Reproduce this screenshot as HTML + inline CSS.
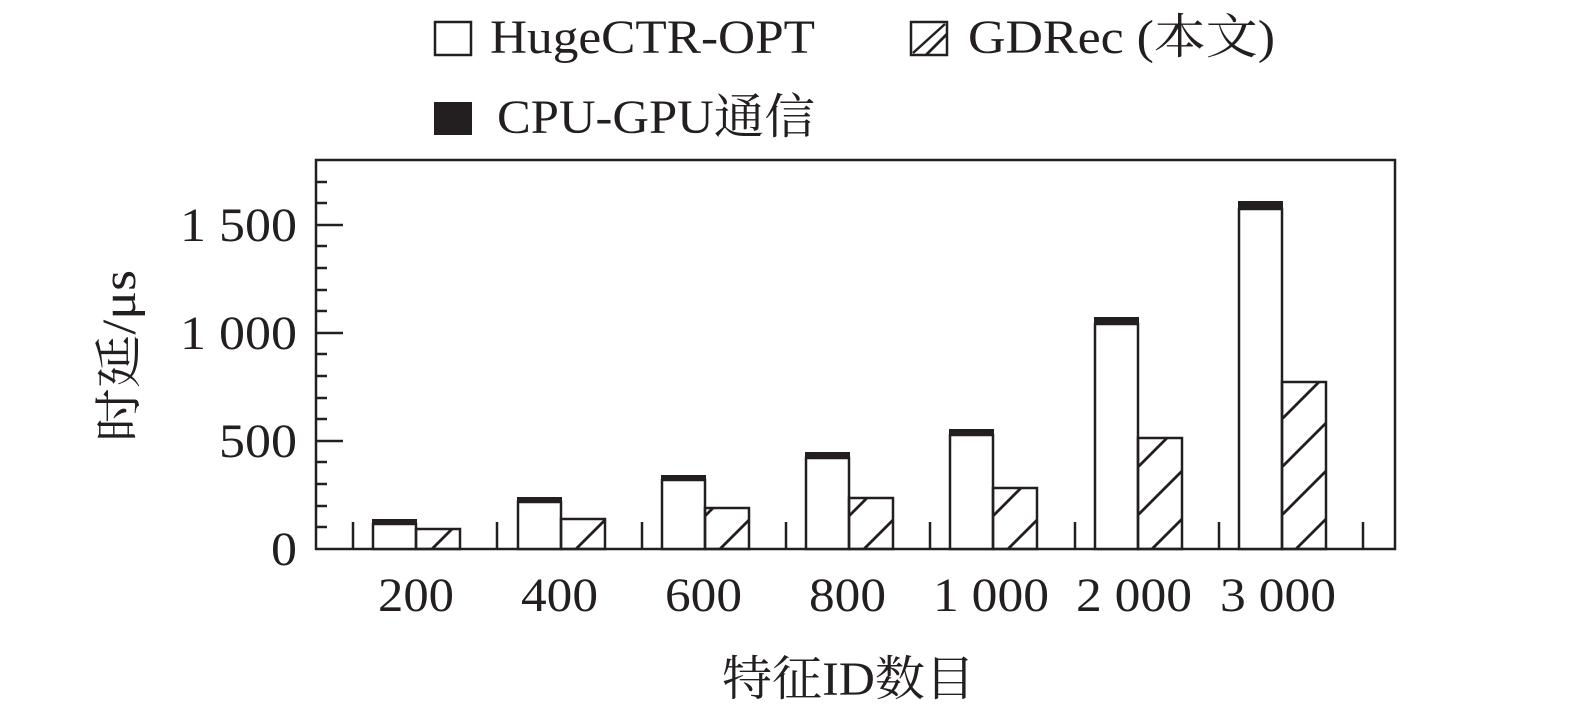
<!DOCTYPE html>
<html><head><meta charset="utf-8"><style>html,body{margin:0;padding:0;background:#fff}</style></head>
<body>
<svg width="1575" height="711" viewBox="0 0 1575 711" xmlns="http://www.w3.org/2000/svg" font-family="'Liberation Serif','Noto Serif CJK SC',serif" fill="#231f20">
<defs>
<pattern id="h" patternUnits="userSpaceOnUse" width="48" height="48" x="0" y="549">
<path d="M-12 12 L12 -12 M0 48 L48 0 M36 60 L60 36" stroke="#231f20" stroke-width="2.8"/>
</pattern>
</defs>
<!-- legend -->
<rect x="435" y="22" width="36" height="33" fill="#fff" stroke="#231f20" stroke-width="2.5"/>
<text x="490" y="53" font-size="48" textLength="325" lengthAdjust="spacingAndGlyphs">HugeCTR-OPT</text>
<rect x="911" y="22" width="36" height="33" fill="url(#h)" stroke="#231f20" stroke-width="2.5"/>
<path d="M913 53 L945 24" stroke="#231f20" stroke-width="2.5"/>
<text x="968" y="53" font-size="48" textLength="307" lengthAdjust="spacingAndGlyphs">GDRec (本文)</text>
<rect x="434" y="102" width="38" height="33" fill="#231f20"/>
<text x="497" y="133" font-size="48" textLength="318" lengthAdjust="spacingAndGlyphs">CPU-GPU通信</text>
<!-- axes -->
<rect x="316" y="160" width="1079" height="389" fill="none" stroke="#231f20" stroke-width="2.5"/>
<g stroke="#231f20" stroke-width="2.5">
<path d="M316 527H327M316 506H327M316 484H327M316 462H327M316 441H343M316 419H327M316 398H327M316 376H327M316 354H327M316 333H343M316 311H327M316 290H327M316 268H327M316 246H327M316 225H343M316 203H327M316 182H327"/>
<path d="M353 549V522M497 549V522M642 549V522M786 549V522M930 549V522M1075 549V522M1219 549V522M1363 549V522"/>
</g>
<g font-size="48">
<text x="271" y="565" textLength="26" lengthAdjust="spacingAndGlyphs">0</text>
<text x="219" y="457" textLength="78" lengthAdjust="spacingAndGlyphs">500</text>
<text x="180" y="349" textLength="117" lengthAdjust="spacingAndGlyphs">1 000</text>
<text x="180" y="241" textLength="117" lengthAdjust="spacingAndGlyphs">1 500</text>
<text x="378" y="611" textLength="76" lengthAdjust="spacingAndGlyphs">200</text>
<text x="521" y="611" textLength="77" lengthAdjust="spacingAndGlyphs">400</text>
<text x="665" y="611" textLength="77" lengthAdjust="spacingAndGlyphs">600</text>
<text x="809" y="611" textLength="77" lengthAdjust="spacingAndGlyphs">800</text>
<text x="933" y="611" textLength="116" lengthAdjust="spacingAndGlyphs">1 000</text>
<text x="1076" y="611" textLength="116" lengthAdjust="spacingAndGlyphs">2 000</text>
<text x="1220" y="611" textLength="116" lengthAdjust="spacingAndGlyphs">3 000</text>
<text x="722" y="695" textLength="253" lengthAdjust="spacingAndGlyphs">特征ID数目</text>
</g>
<text font-size="48" transform="translate(135 442) rotate(-90)" textLength="172" lengthAdjust="spacingAndGlyphs">时延/μs</text>
<!-- bars -->
<g stroke="#231f20" stroke-width="2.5">
<rect x="373" y="524" width="43" height="25" fill="#fff"/><rect x="416" y="529" width="44" height="20" fill="url(#h)"/>
<rect x="518" y="502" width="43" height="47" fill="#fff"/><rect x="561" y="519" width="44" height="30" fill="url(#h)"/>
<rect x="662" y="480" width="43" height="69" fill="#fff"/><rect x="705" y="508" width="44" height="41" fill="url(#h)"/>
<rect x="806" y="458" width="43" height="91" fill="#fff"/><rect x="849" y="498" width="44" height="51" fill="url(#h)"/>
<rect x="950" y="435" width="43" height="114" fill="#fff"/><rect x="993" y="488" width="44" height="61" fill="url(#h)"/>
<rect x="1095" y="324" width="43" height="225" fill="#fff"/><rect x="1138" y="438" width="44" height="111" fill="url(#h)"/>
<rect x="1239" y="209" width="43" height="340" fill="#fff"/><rect x="1282" y="382" width="44" height="167" fill="url(#h)"/>
</g>
<g>
<rect x="372" y="519" width="45" height="6"/>
<rect x="517" y="497" width="45" height="6"/>
<rect x="661" y="475" width="45" height="6"/>
<rect x="805" y="452" width="45" height="7"/>
<rect x="949" y="429" width="45" height="7"/>
<rect x="1094" y="317" width="45" height="8"/>
<rect x="1238" y="201" width="45" height="9"/>
</g>
</svg>
</body></html>
